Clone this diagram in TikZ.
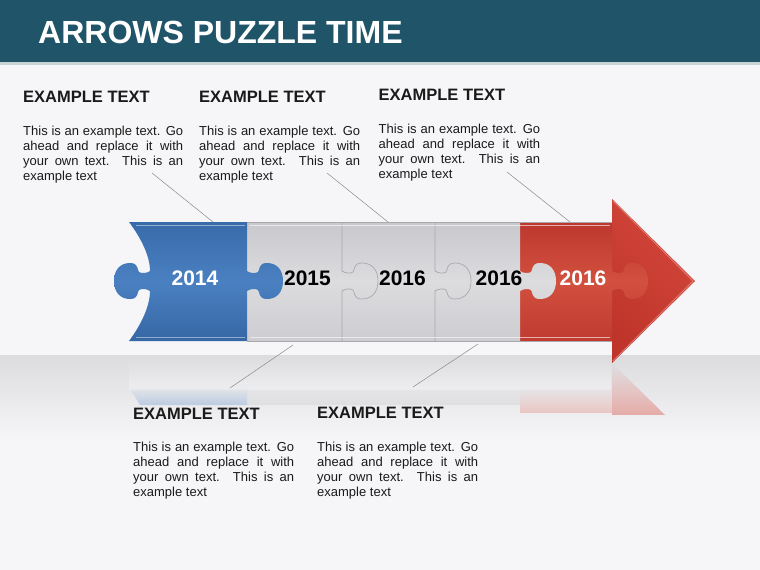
\documentclass[tikz,border=0pt]{standalone}
\usepackage{fontspec}
\setmainfont{Liberation Sans}
\usetikzlibrary{fadings}
\definecolor{barc}{HTML}{1F5469}
\definecolor{barline}{HTML}{C8D2D7}
\definecolor{bgc}{HTML}{F6F6F8}
\definecolor{floorc}{HTML}{DCDCDF}
\definecolor{blueT}{HTML}{386BAA}
\definecolor{blueM}{HTML}{4A80C1}
\definecolor{blueB}{HTML}{3667A5}
\definecolor{grayT}{HTML}{C9C9CD}
\definecolor{grayM}{HTML}{DCDCDF}
\definecolor{grayB}{HTML}{CDCDD1}
\definecolor{redT}{HTML}{BC382E}
\definecolor{redM}{HTML}{D2503F}
\definecolor{redB}{HTML}{C03A30}
\definecolor{arrT}{HTML}{C0352B}
\definecolor{arrB}{HTML}{D2463A}
\definecolor{seamc}{HTML}{A9A9AD}
\definecolor{leadc}{HTML}{8A8A8E}
\definecolor{txtc}{HTML}{1A1A1A}
\begin{document}
\begin{tikzpicture}[x=1pt,y=-1pt,
  knobdown/.style 2 args={insert path={ -- (#1,271)
     .. controls ({#1+3*(#2)},273) and ({#1+8*(#2)},274) .. ({#1+11*(#2)},272)
     .. controls ({#1+13*(#2)},270) and ({#1+11*(#2)},263) .. ({#1+20*(#2)},263)
     .. controls ({#1+30*(#2)},263) and ({#1+36*(#2)},270) .. ({#1+36*(#2)},281)
     .. controls ({#1+36*(#2)},292) and ({#1+30*(#2)},299) .. ({#1+20*(#2)},299)
     .. controls ({#1+11*(#2)},299) and ({#1+13*(#2)},292) .. ({#1+11*(#2)},290)
     .. controls ({#1+8*(#2)},288) and ({#1+3*(#2)},289) .. (#1,291)}},
  knobup/.style 2 args={insert path={ -- (#1,291)
     .. controls ({#1+3*(#2)},289) and ({#1+8*(#2)},288) .. ({#1+11*(#2)},290)
     .. controls ({#1+13*(#2)},292) and ({#1+11*(#2)},299) .. ({#1+20*(#2)},299)
     .. controls ({#1+30*(#2)},299) and ({#1+36*(#2)},292) .. ({#1+36*(#2)},281)
     .. controls ({#1+36*(#2)},270) and ({#1+30*(#2)},263) .. ({#1+20*(#2)},263)
     .. controls ({#1+11*(#2)},263) and ({#1+13*(#2)},270) .. ({#1+11*(#2)},272)
     .. controls ({#1+8*(#2)},274) and ({#1+3*(#2)},273) .. (#1,271)}},
  bluefill/.style={top color=blueT,bottom color=blueB,middle color=blueM},
  grayfill/.style={top color=grayT,bottom color=grayB,middle color=grayM},
  redfill/.style={top color=redT,bottom color=redB,middle color=redM},
  arrfill/.style={left color=arrT,right color=arrB,shading angle=135},
  seam/.style={draw=seamc,line width=0.7pt},
  lead/.style={draw=leadc,line width=0.5pt},
  year/.style={font=\fontsize{21}{21}\selectfont\bfseries,anchor=base,inner sep=0pt},
  head/.style={font=\fontsize{16.5}{18}\selectfont\bfseries,text=txtc,anchor=base west,inner sep=0pt},
  body/.style={font=\fontsize{13}{15}\selectfont,text=txtc,anchor=base west,inner sep=0pt}
]
\useasboundingbox (0,0) rectangle (760,570);
% background
\fill[bgc] (0,0) rectangle (760,570);
\path[top color=floorc,bottom color=bgc] (0,355) rectangle (760,440);
% title bar
\fill[barc] (0,0) rectangle (760,62);
\fill[barline] (0,62) rectangle (760,64.5);
\node[anchor=base west,inner sep=0pt,text=white,font=\fontsize{32}{32}\selectfont\bfseries] (title) at (38,43.5) {ARROWS PUZZLE TIME};

% reflection
\fill[white,opacity=0.3,path fading=north] (129,357) rectangle (612,390);
\fill[blueM!70!white,opacity=0.45,path fading=north] (129,387) -- (247,387) -- (247,405) -- (140,405) -- cycle;
\fill[grayT,opacity=0.35,path fading=north] (247,387) rectangle (520,405);
\fill[redM!60!white,opacity=0.45,path fading=north] (520,387) rectangle (612,413);
\fill[arrB!75!white,opacity=0.55,path fading=north] (612,363) -- (665,415) -- (612,415) -- cycle;

% arrowhead
\path[arrfill] (612,199) -- (695,281) -- (612,363) -- cycle;
\draw[arrB!70!white,line width=1pt,line join=round] (613,201) -- (693,281) -- (613,361);
% red body with knob into arrowhead
\path[redfill] (520,222) -- (612,222) [knobdown={612}{1}] -- (612,341) -- (520,341) -- cycle;
% gray body with knob into red
\path[grayfill] (247,222) -- (520,222) [knobdown={520}{1}] -- (520,341) -- (247,341) -- cycle;
\draw[seam] (342,222) [knobdown={342}{1}] -- (342,341);
\draw[seam] (435,222) [knobdown={435}{1}] -- (435,341);
\draw[seam] (247,222) -- (612,222);
\draw[seam] (247,341) -- (612,341);
\draw[white,opacity=0.6,line width=0.8pt] (250,225.5) -- (610,225.5);
\draw[white,opacity=0.6,line width=0.8pt] (250,337.5) -- (610,337.5);
% blue piece
\path[bluefill] (129,222) -- (247,222) [knobdown={247}{1}] -- (247,341) -- (129,341)
   .. controls (141,325) and (150,306) .. (150,291) [knobup={150}{-1}]
   .. controls (150,256) and (141,238) .. (129,222) -- cycle;
\draw[white,opacity=0.45,line width=0.8pt] (136,225.5) -- (245,225.5);
\draw[white,opacity=0.45,line width=0.8pt] (136,337.5) -- (245,337.5);

% years
\node[year,text=white] (y1) at (195,285) {2014};
\node[year,text=black] (y2) at (307.5,285) {2015};
\node[year,text=black] (y3) at (402.5,285) {2016};
\node[year,text=black] (y4) at (499,285) {2016};
\node[year,text=white] (y5) at (583,285) {2016};

% text blocks
\node[head] (h1) at (23,102.5) {EXAMPLE TEXT};
\node[body] (b1) at (23,135) {\parbox[t]{160pt}{This is an example text. Go\linebreak ahead and replace it with\linebreak your own text. This is an\linebreak example text}};
\node[head] (h2) at (199,102.5) {EXAMPLE TEXT};
\node[body] (b2) at (199,135) {\parbox[t]{161pt}{This is an example text. Go\linebreak ahead and replace it with\linebreak your own text. This is an\linebreak example text}};
\node[head] (h3) at (378.5,100.5) {EXAMPLE TEXT};
\node[body] (b3) at (378.5,133.3) {\parbox[t]{161.5pt}{This is an example text. Go\linebreak ahead and replace it with\linebreak your own text. This is an\linebreak example text}};
\node[head] (h4) at (133,419.5) {EXAMPLE TEXT};
\node[body] (b4) at (133,451.7) {\parbox[t]{161pt}{This is an example text. Go\linebreak ahead and replace it with\linebreak your own text. This is an\linebreak example text}};
\node[head] (h5) at (317,418.5) {EXAMPLE TEXT};
\node[body] (b5) at (317,451.7) {\parbox[t]{161pt}{This is an example text. Go\linebreak ahead and replace it with\linebreak your own text. This is an\linebreak example text}};

% leader lines
\coordinate (l1a) at (152,173); \coordinate (l1b) at (213,222);
\coordinate (l2a) at (327,173); \coordinate (l2b) at (388,222);
\coordinate (l3a) at (507,172); \coordinate (l3b) at (570,222);
\coordinate (l4a) at (293,345); \coordinate (l4b) at (230,388);
\coordinate (l5a) at (478,344); \coordinate (l5b) at (413,387);
\draw[lead] (l1a) -- (l1b);
\draw[lead] (l2a) -- (l2b);
\draw[lead] (l3a) -- (l3b);
\draw[lead] (l4a) -- (l4b);
\draw[lead] (l5a) -- (l5b);
\end{tikzpicture}
\end{document}
